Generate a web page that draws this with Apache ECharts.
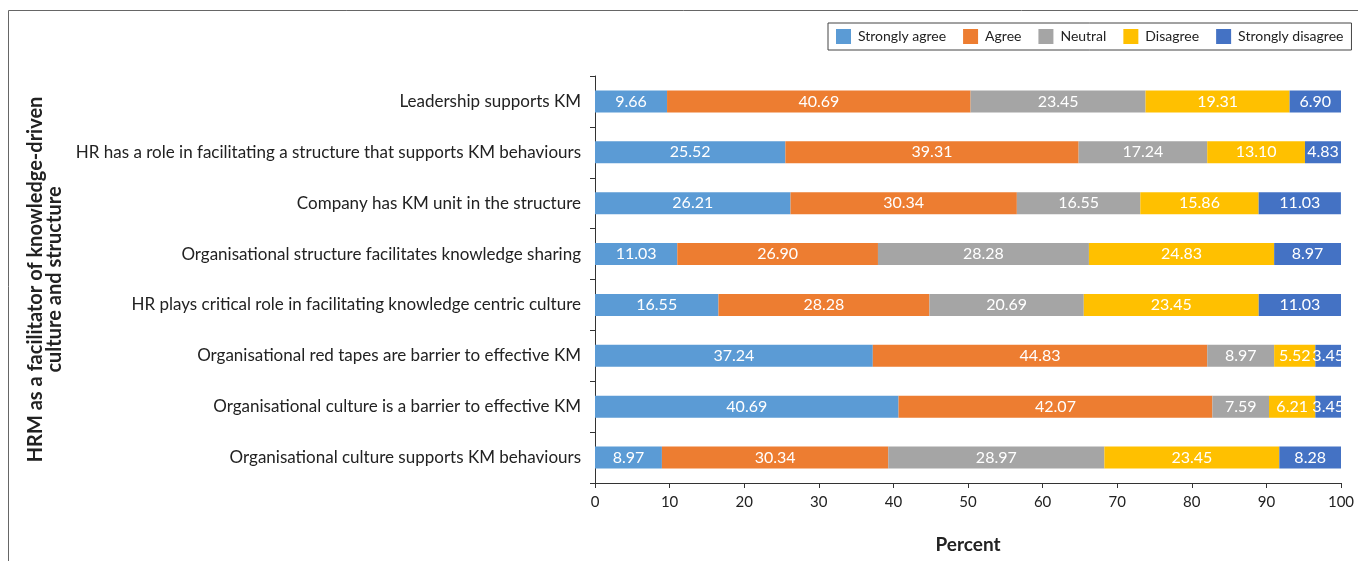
<!DOCTYPE html>
<html><head><meta charset="utf-8">
<script src="https://cdn.jsdelivr.net/npm/echarts@6/dist/echarts.min.js"></script>
<style>html,body{margin:0;padding:0;background:#fff}#c{width:1358px;height:561px}</style>
</head><body><div id="c"></div>
<script>
const categories = [
  "Leadership supports KM",
  "HR has a role in facilitating a structure that supports KM behaviours",
  "Company has KM unit in the structure",
  "Organisational structure facilitates knowledge sharing",
  "HR plays critical role in facilitating knowledge centric culture",
  "Organisational red tapes are barrier to effective KM",
  "Organisational culture is a barrier to effective KM",
  "Organisational culture supports KM behaviours"
];
const seriesNames = ["Strongly agree","Agree","Neutral","Disagree","Strongly disagree"];
const stronglyAgree = [9.66,25.52,26.21,11.03,16.55,37.24,40.69,8.97];
const agree = [40.69,39.31,30.34,26.90,28.28,44.83,42.07,30.34];
const neutral = [23.45,17.24,16.55,28.28,20.69,8.97,7.59,28.97];
const disagree = [19.31,13.10,15.86,24.83,23.45,5.52,6.21,23.45];
const stronglyDisagree = [6.90,4.83,11.03,8.97,11.03,3.45,3.45,8.28];
const colors = ["#5B9BD5","#ED7D31","#A5A5A5","#FFC000","#4472C4"];
const allData = [stronglyAgree, agree, neutral, disagree, stronglyDisagree];
const FONT = "Lato";
const chart = echarts.init(document.getElementById('c'), null, {renderer:'canvas'});
chart.setOption({
  animation:false,
  textStyle:{fontFamily:FONT},
  graphic:[{type:'rect',shape:{x:8.5,y:10.5,width:1400,height:600},style:{fill:'none',stroke:'#666',lineWidth:1},z:-1}],
  legend:{
    left:828, top:23, width:700, itemWidth:15, itemHeight:15, itemGap:17,
    borderColor:'#444', borderWidth:1, padding:[6,8,6,8],
    textStyle:{fontSize:14,color:'#222',fontFamily:FONT,padding:[0,0,0,2]},
    data:seriesNames, icon:'rect'
  },
  grid:{left:595,right:17,top:76,bottom:78,containLabel:false},
  xAxis:{
    type:'value',min:0,max:100,interval:10,
    name:'Percent',nameLocation:'middle',nameGap:52,
    nameTextStyle:{fontSize:19,fontWeight:'bold',color:'#222',fontFamily:FONT},
    axisLine:{show:true,lineStyle:{color:'#333'}},
    axisTick:{show:true,length:5,lineStyle:{color:'#333'}},
    axisLabel:{fontSize:15,color:'#222',margin:12,fontFamily:FONT},
    splitLine:{show:false}
  },
  yAxis:{
    type:'category',data:categories,inverse:true,
    name:'HRM as a facilitator of knowledge-driven\nculture and structure',
    nameLocation:'middle',nameGap:531,nameRotate:90,
    nameTextStyle:{fontSize:20,fontWeight:'bold',color:'#222',lineHeight:19,fontFamily:FONT},
    axisLine:{show:true,lineStyle:{color:'#333'}},
    axisTick:{show:true,length:5,lineStyle:{color:'#333'}},
    axisLabel:{fontSize:17,color:'#222',margin:14,fontFamily:FONT}
  },
  series: seriesNames.map((n,i)=>({
    name:n,type:'bar',stack:'total',barWidth:22,
    itemStyle:{color:colors[i]},
    label:{show:true,position:'inside',color:'#fff',fontSize:16,fontFamily:FONT,
      formatter:p=>p.value.toFixed(2)},
    data:allData[i]
  }))
});
</script></body></html>
